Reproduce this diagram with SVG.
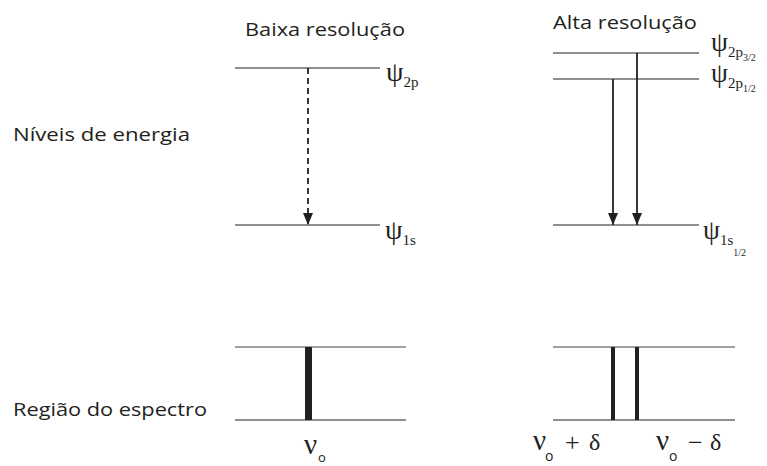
<svg xmlns="http://www.w3.org/2000/svg" width="767" height="466" viewBox="0 0 767 466">
<style>
.t{font-family:"Open Sans","Noto Sans",sans-serif;font-size:18px;fill:#231f20}
.g{font-family:"Liberation Serif",serif;fill:#231f20}
.s{font-family:"Open Sans",sans-serif;fill:#231f20}
.lv{stroke:#231f20;stroke-width:1.2;fill:none}
.gr{stroke:#808080;stroke-width:1.5;fill:none}
.ar{stroke:#231f20;stroke-width:1.8;fill:none}
</style>
<defs>
<marker id="ah" viewBox="0 0 12 10" refX="12" refY="5" markerWidth="12" markerHeight="10" markerUnits="userSpaceOnUse" orient="auto">
<path d="M0,0 L12,5 L0,10 Z" fill="#231f20"/>
</marker>
</defs>
<g id="titles">
<text class="t" x="245" y="36" textLength="160" lengthAdjust="spacingAndGlyphs">Baixa resolução</text>
<text class="t" x="553" y="29" textLength="144" lengthAdjust="spacingAndGlyphs">Alta resolução</text>
<text class="t" x="13" y="141" textLength="177" lengthAdjust="spacingAndGlyphs">Níveis de energia</text>
<text class="t" x="13" y="416" textLength="194" lengthAdjust="spacingAndGlyphs">Região do espectro</text>
</g>
<g id="low-levels">
<line class="lv" x1="235" y1="68" x2="380" y2="68"/>
<line class="lv" x1="235" y1="225" x2="380" y2="225"/>
<text class="g" x="386" y="81" font-size="28">ψ<tspan font-size="15" dy="6">2p</tspan></text>
<text class="g" x="385" y="239" font-size="28">ψ<tspan font-size="15" dy="6">1s</tspan></text>
</g>
<g id="high-levels">
<line class="lv" x1="553" y1="53" x2="699" y2="53"/>
<line class="lv" x1="553" y1="79" x2="699" y2="79"/>
<line class="lv" x1="553" y1="225" x2="699" y2="225"/>
<text class="g" x="711" y="51" font-size="27">ψ<tspan font-size="15" dy="6">2p</tspan><tspan font-size="10" dy="4">3/2</tspan></text>
<text class="g" x="711" y="82" font-size="27">ψ<tspan font-size="15" dy="6">2p</tspan><tspan font-size="10" dy="4">1/2</tspan></text>
<text class="g" x="703" y="239" font-size="27">ψ<tspan font-size="15" dy="6">1s</tspan><tspan font-size="10" dy="11">1/2</tspan></text>
</g>
<g id="connectors">
<line class="ar" x1="308" y1="68" x2="308" y2="225" stroke-dasharray="6,4" marker-end="url(#ah)"/>
<line class="ar" x1="613" y1="79" x2="613" y2="225" marker-end="url(#ah)"/>
<line class="ar" x1="637" y1="53" x2="637" y2="225" marker-end="url(#ah)"/>
</g>
<g id="low-spectrum">
<line class="gr" x1="235" y1="347" x2="406" y2="347"/>
<line class="lv" x1="235" y1="420" x2="406" y2="420"/>
<rect x="305" y="347" width="7" height="73" fill="#231f20"/>
<text class="g" x="304" y="454" font-size="29">ν</text>
<text class="s" x="318" y="462" font-size="13">o</text>
</g>
<g id="high-spectrum">
<line class="gr" x1="553" y1="347" x2="735" y2="347"/>
<line class="lv" x1="553" y1="420" x2="735" y2="420"/>
<rect x="611" y="347" width="4" height="73" fill="#231f20"/>
<rect x="635" y="347" width="4" height="73" fill="#231f20"/>
<text class="g" x="533" y="450" font-size="29">ν</text>
<text class="s" x="545" y="461" font-size="14">o</text>
<text class="g" x="565" y="451" font-size="26">+</text>
<text class="g" x="589" y="450" font-size="24">δ</text>
<text class="g" x="656" y="450" font-size="29">ν</text>
<text class="s" x="669" y="461" font-size="14">o</text>
<text class="g" x="688" y="451" font-size="26">−</text>
<text class="g" x="710" y="450" font-size="24">δ</text>
</g>
</svg>
